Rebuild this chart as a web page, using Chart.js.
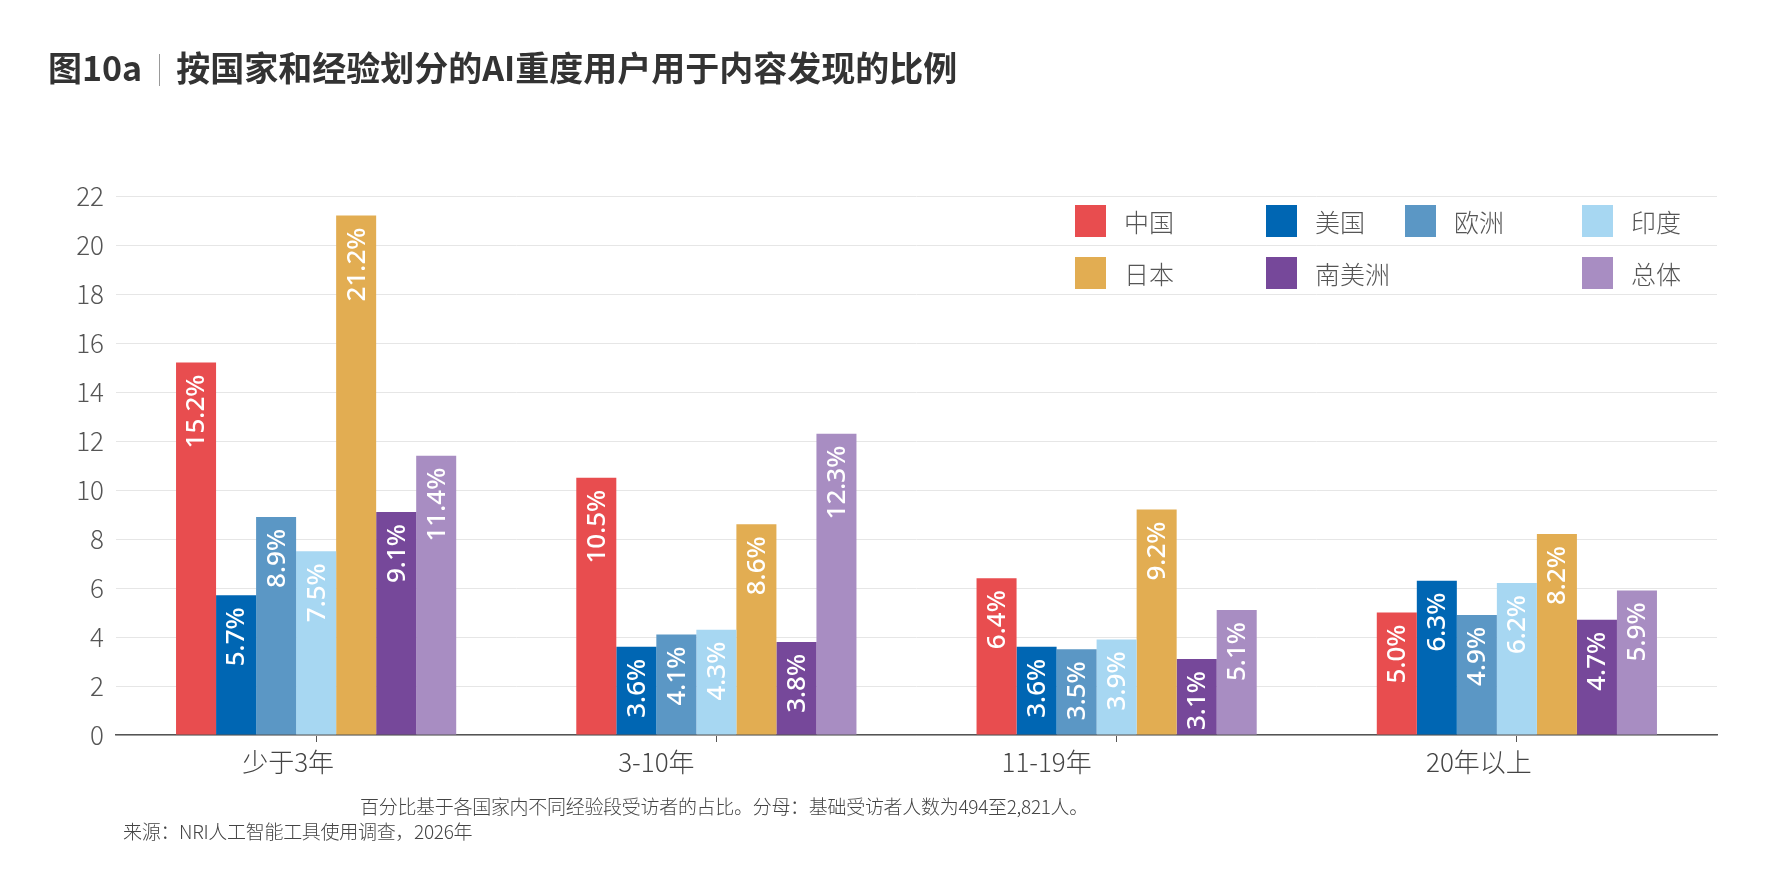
<!DOCTYPE html>
<html>
<head>
<meta charset="utf-8">
<script src="https://cdn.jsdelivr.net/npm/chart.js@4.4.1/dist/chart.umd.min.js"></script>
<style>
    body { margin: 0; background: #fff; }
    #wrap { position: relative; width: 1789px; height: 891px; overflow: hidden; font-family: "Noto Sans CJK SC", "Noto Sans", sans-serif; }
    #title { position: absolute; left: 48px; top: 42px; font-size: 34px; font-weight: 700; color: #333; white-space: nowrap; }
    #title .sep { display: inline-block; width: 1px; height: 32px; background: #999; margin: 0 16px 0 17px; vertical-align: -5px; }
    .note { position: absolute; font-size: 19px; color: #444; white-space: nowrap; font-weight: 300; letter-spacing: -0.3px; }
    .lg-box { position: absolute; width: 31px; height: 32px; }
    .lg-txt { position: absolute; font-size: 25px; color: #555; font-weight: 300; line-height: 32px; }
    canvas { position: absolute; left: 0; top: 0; }
</style>
</head>
<body>
<div id="wrap">
    <canvas id="myChart" width="1789" height="891"></canvas>
    <div id="title">图10a<span class="sep"></span>按国家和经验划分的AI重度用户用于内容发现的比例</div>
    <div id="legend"></div>
    <div class="note" style="left:360px; top:792px;">百分比基于各国家内不同经验段受访者的占比。分母：基础受访者人数为494至2,821人。</div>
    <div class="note" style="left:123px; top:817px;">来源：NRI人工智能工具使用调查，2026年</div>
</div>
<script>
const categories = ["少于3年", "3-10年", "11-19年", "20年以上"];
const seriesNames = ["中国", "美国", "欧洲", "印度", "日本", "南美洲", "总体"];
const china = [15.2, 10.5, 6.4, 5.0];
const usa = [5.7, 3.6, 3.6, 6.3];
const europe = [8.9, 4.1, 3.5, 4.9];
const india = [7.5, 4.3, 3.9, 6.2];
const japan = [21.2, 8.6, 9.2, 8.2];
const southAmerica = [9.1, 3.8, 3.1, 4.7];
const overall = [11.4, 12.3, 5.1, 5.9];
const yTicks = [0, 2, 4, 6, 8, 10, 12, 14, 16, 18, 20, 22];

const colors = ["#E84D4F", "#0066B3", "#5B97C5", "#A7D7F2", "#E2AD52", "#76489A", "#A88DC2"];
const seriesValues = [china, usa, europe, india, japan, southAmerica, overall];

// legend slots (left, top) - the reference leaves a hole in row 2
const legendPos = [[1075, 205], [1266, 205], [1405, 205], [1582, 205], [1075, 257], [1266, 257], [1582, 257]];
const xLabelShift = [-28, -60, -70, -38];

const legend = document.getElementById("legend");
seriesNames.forEach((name, i) => {
    const box = document.createElement("div");
    box.className = "lg-box";
    box.style.left = legendPos[i][0] + "px";
    box.style.top = legendPos[i][1] + "px";
    box.style.background = colors[i];
    legend.appendChild(box);
    const txt = document.createElement("div");
    txt.className = "lg-txt";
    txt.style.left = (legendPos[i][0] + 49) + "px";
    txt.style.top = legendPos[i][1] + "px";
    txt.innerText = name;
    legend.appendChild(txt);
});

const barLabels = {
    id: "barLabels",
    afterDatasetsDraw(chart) {
        const ctx = chart.ctx;
        ctx.save();
        ctx.fillStyle = "#fff";
        ctx.font = "500 26px 'Noto Sans', sans-serif";
        ctx.textAlign = "right";
        ctx.textBaseline = "middle";
        chart.data.datasets.forEach((ds, di) => {
            chart.getDatasetMeta(di).data.forEach((bar, i) => {
                ctx.save();
                ctx.translate(bar.x + 1, bar.y + 12);
                ctx.rotate(-Math.PI / 2);
                ctx.fillText(ds.data[i].toFixed(1) + "%", 0, 0);
                ctx.restore();
            });
        });
        ctx.restore();
    },
};

const catLabels = {
    id: "catLabels",
    afterDraw(chart) {
        const ctx = chart.ctx;
        const xs = chart.scales.x;
        ctx.save();
        ctx.fillStyle = "#444";
        ctx.font = "300 26px 'Noto Sans CJK SC', sans-serif";
        ctx.textAlign = "center";
        ctx.textBaseline = "middle";
        categories.forEach((c, i) => {
            ctx.fillText(c, xs.getPixelForTick(i) + xLabelShift[i], 762);
        });
        ctx.restore();
    },
};

const ctx = document.getElementById("myChart");
const myChart = new Chart(ctx, {
    type: "bar",
    data: {
        labels: categories,
        datasets: seriesNames.map((name, i) => ({
            label: name,
            data: seriesValues[i],
            backgroundColor: colors[i],
            borderWidth: 0,
            categoryPercentage: 0.7,
            barPercentage: 1.0,
        })),
    },
    options: {
        responsive: false,
        animation: false,
        layout: { padding: { left: 0, right: 72, top: 196, bottom: 0 } },
        plugins: {
            legend: { display: false },
            tooltip: { enabled: false },
        },
        scales: {
            x: {
                afterFit: (s) => { s.height = 156; },
                grid: { drawOnChartArea: false, drawTicks: true, tickLength: 7, color: "#555", offset: false },
                border: { color: "#555", width: 1.5 },
                ticks: { display: false },
            },
            y: {
                min: 0,
                max: 22,
                afterFit: (s) => { s.width = 116; },
                afterBuildTicks: (s) => { s.ticks = yTicks.map((v) => ({ value: v })); },
                grid: { color: "#e6e6e6", drawTicks: false },
                border: { display: false },
                ticks: {
                    padding: 12,
                    color: "#555",
                    font: { family: "'Noto Sans CJK SC', sans-serif", size: 26, weight: 300 },
                },
            },
        },
    },
    plugins: [barLabels, catLabels],
});
</script>
</body>
</html>
